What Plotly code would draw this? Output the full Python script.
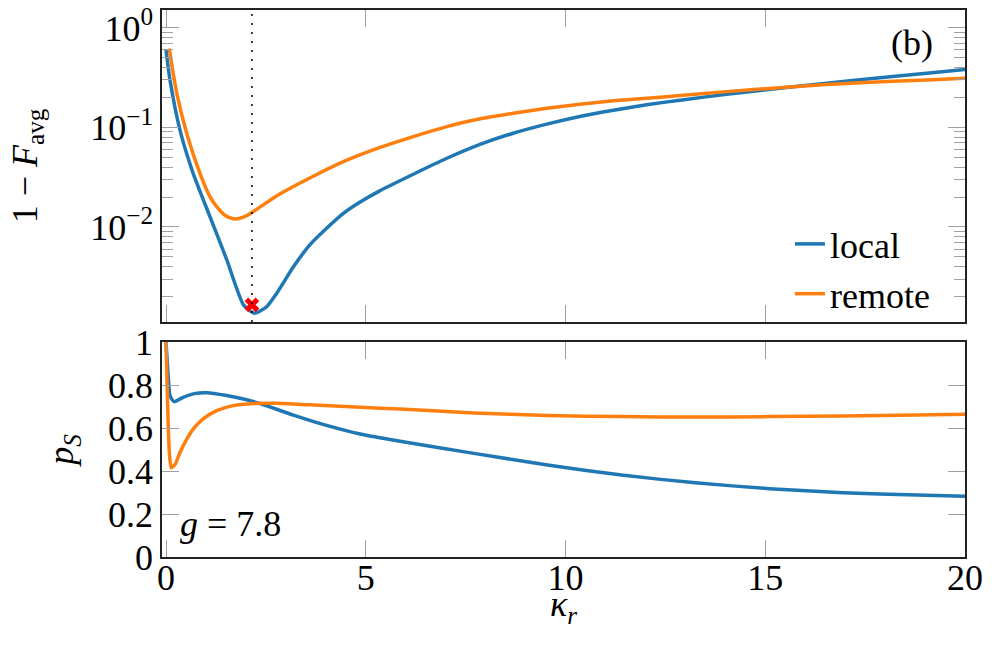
import plotly.graph_objects as go

# ---------------- data ----------------
# top panel: infidelity 1 - F_avg vs kappa_r
kappa_top_local = [0.0, 0.1, 0.35, 0.68, 1.10, 1.52, 1.94, 2.21, 2.52, 2.77, 3.19, 3.60, 4.02,
                   4.44, 4.86, 5.36, 6.19, 7.03, 7.86, 8.69, 9.53, 10.36, 11.2, 12.03, 12.87,
                   14.03, 15.70, 17.37, 19.04, 20.0]
infid_local = [0.60, 0.30, 0.094, 0.0346, 0.0127, 0.0047, 0.00165, 0.00136, 0.00158, 0.00215,
               0.00398, 0.0066, 0.0097, 0.0137, 0.0178, 0.0232, 0.0339, 0.049, 0.0676, 0.0875,
               0.108, 0.129, 0.149, 0.169, 0.188, 0.215, 0.256, 0.302, 0.351, 0.382]

kappa_top_remote = [0.08, 0.27, 0.52, 0.85, 1.10, 1.27, 1.50, 1.73, 1.95, 2.14, 2.77, 3.60,
                    4.44, 5.36, 6.19, 7.03, 7.86, 8.69, 9.53, 10.36, 11.2, 12.03, 12.87, 14.03,
                    15.70, 17.37, 19.04, 20.0]
infid_remote = [0.62, 0.22, 0.087, 0.0346, 0.0202, 0.016, 0.0129, 0.012, 0.0126, 0.0139, 0.0205,
                0.0310, 0.0453, 0.063, 0.081, 0.102, 0.122, 0.139, 0.156, 0.171, 0.185, 0.196,
                0.209, 0.229, 0.257, 0.282, 0.300, 0.312]

# bottom panel: success probability p_S vs kappa_r
kappa_bot_local = [0.0, 0.06, 0.10, 0.20, 0.43, 0.68, 1.02, 1.52, 1.94, 2.35, 3.19, 4.02, 4.86,
                   5.86, 7.71, 9.55, 11.40, 13.25, 15.10, 16.95, 18.80, 20.0]
ps_local = [1.0, 0.83, 0.751, 0.723, 0.743, 0.759, 0.764, 0.751, 0.735, 0.714, 0.660, 0.612,
            0.572, 0.538, 0.482, 0.428, 0.381, 0.345, 0.318, 0.299, 0.288, 0.283]

kappa_bot_remote = [0.0, 0.04, 0.08, 0.13, 0.23, 0.35, 0.52, 0.68, 0.93, 1.27, 1.68, 2.19, 2.77,
                    3.60, 4.86, 5.86, 7.71, 9.55, 11.40, 13.25, 15.10, 16.95, 18.80, 20.0]
ps_remote = [1.0, 0.72, 0.50, 0.415, 0.431, 0.486, 0.548, 0.595, 0.642, 0.681, 0.704, 0.714,
             0.715, 0.708, 0.697, 0.688, 0.670, 0.658, 0.653, 0.651, 0.653, 0.656, 0.661, 0.664]

# optimal point
kappa_opt = [2.15]
infid_opt = [0.00165]

series_names = ["local", "remote"]
x_ticks = [0, 5, 10, 15, 20]
top_tickvals = [1, 0.1, 0.01]
top_ticktext = ["10<sup>0</sup>", "10<sup>\u22121</sup>", "10<sup>\u22122</sup>"]
bot_ticks = [0, 0.2, 0.4, 0.6, 0.8, 1]
minor_log_ticks = [m * 10.0 ** e for e in (-3, -2, -1) for m in range(2, 10)]

BLUE = "#1f77b4"
ORANGE = "#ff7f0e"
FONT = "'Liberation Serif', 'DejaVu Serif', serif"
FS = 36
TICKC = "#a0a0a0"
tfont = dict(family=FONT, size=FS, color="black")

fig = go.Figure()
fig.add_trace(go.Scatter(x=kappa_top_local, y=infid_local, mode="lines", name=series_names[0],
                         line=dict(color=BLUE, width=3.5, shape="spline", smoothing=0.6),
                         xaxis="x", yaxis="y"))
fig.add_trace(go.Scatter(x=kappa_top_remote, y=infid_remote, mode="lines", name=series_names[1],
                         line=dict(color=ORANGE, width=3.5, shape="spline", smoothing=0.6),
                         xaxis="x", yaxis="y"))
fig.add_trace(go.Scatter(x=kappa_opt, y=infid_opt, mode="markers", showlegend=False,
                         marker=dict(symbol="x", size=13, color="red", line=dict(width=0)),
                         xaxis="x", yaxis="y"))
fig.add_trace(go.Scatter(x=kappa_bot_local, y=ps_local, mode="lines", showlegend=False,
                         line=dict(color=BLUE, width=3.5, shape="spline", smoothing=0.6),
                         xaxis="x2", yaxis="y2"))
fig.add_trace(go.Scatter(x=kappa_bot_remote, y=ps_remote, mode="lines", showlegend=False,
                         line=dict(color=ORANGE, width=3.5, shape="spline", smoothing=0.6),
                         xaxis="x2", yaxis="y2"))

fig.add_shape(type="line", x0=kappa_opt[0], x1=kappa_opt[0], xref="x", y0=0, y1=1,
              yref="y domain", line=dict(color="black", width=1.5, dash="2px,7px"))

axis_common = dict(showgrid=False, zeroline=False, showline=True, linecolor="#222",
                   linewidth=1.6, mirror="allticks", ticks="inside", ticklen=17,
                   tickcolor=TICKC, tickwidth=1, automargin=False, tickfont=tfont,
                   ticklabeloverflow="allow")

fig.update_layout(
    width=997, height=650, autosize=False,
    margin=dict(l=162, r=32, t=10, b=93),
    paper_bgcolor="white", plot_bgcolor="white",
    font=dict(family=FONT, size=FS, color="black"),
    xaxis=dict(axis_common, domain=[0, 1], anchor="y", range=[-0.1, 20],
               tickvals=x_ticks, showticklabels=False),
    yaxis=dict(axis_common, domain=[0.4296, 1], anchor="x", type="log",
               range=[-2.955, 0.18], tickvals=top_tickvals, ticktext=top_ticktext,
               minor=dict(ticks="inside", ticklen=11, tickcolor=TICKC, tickwidth=1,
                          tickvals=minor_log_ticks, showgrid=False),
               title=dict(text="1 \u2212 <i>F</i><sub>avg</sub>", standoff=42,
                          font=tfont)),
    xaxis2=dict(axis_common, domain=[0, 1], anchor="y2", range=[-0.1, 20], matches="x",
                tickvals=x_ticks, ticklabelstandoff=-12),
    yaxis2=dict(axis_common, domain=[0, 0.393], anchor="x2", range=[0, 1],
                tickvals=bot_ticks,
                title=dict(text="<i>p</i><sub><i>S</i></sub>", standoff=23, font=tfont)),
    legend=dict(x=0.782, y=0.426, xanchor="left", yanchor="bottom",
                bgcolor="rgba(0,0,0,0)", borderwidth=0, font=tfont,
                tracegroupgap=0),
    showlegend=True,
)

fig.add_annotation(text="<i>\u03ba</i><sub><i>r</i></sub>", x=0.5, y=-0.09,
                   xref="paper", yref="paper", xanchor="center", yanchor="middle",
                   showarrow=False, font=tfont)
fig.add_annotation(text="(b)", x=0.934, y=0.9397, xref="paper", yref="paper",
                   xanchor="center", yanchor="middle", showarrow=False, font=tfont)
fig.add_annotation(text="<i>g</i> = 7.8", x=0.02, y=0.06, xref="paper", yref="paper",
                   xanchor="left", yanchor="middle", showarrow=False, font=tfont)

fig.write_html("out.html", config={"displayModeBar": False},
               post_script="document.body.style.margin='0px';")
